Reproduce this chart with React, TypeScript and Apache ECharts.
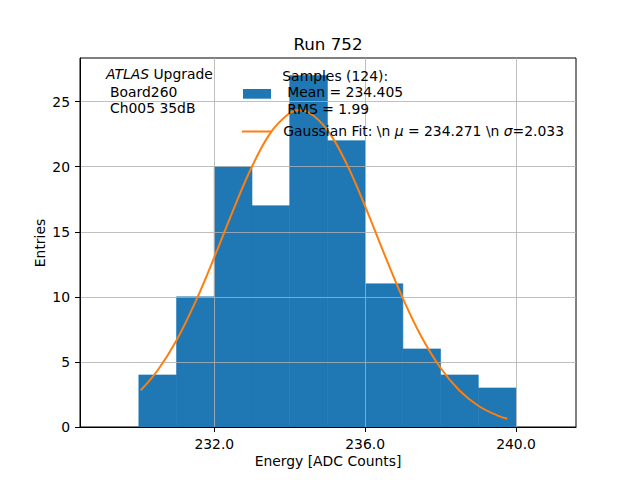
import React, { useEffect, useRef } from "react";
import * as echarts from "echarts";

const binLow = [230, 231, 232, 233, 234, 235, 236, 237, 238, 239];
const binHigh = [231, 232, 233, 234, 235, 236, 237, 238, 239, 240];
const counts = [4, 10, 20, 17, 27, 22, 11, 6, 4, 3];

const fitX = [230.05, 230.5, 231, 231.5, 232, 232.5, 233, 233.5, 234, 234.25, 234.5, 235, 235.5, 236, 236.5, 237, 237.5, 238, 238.5, 239, 239.5, 239.77];
const fitY = [2.82, 4.36, 6.67, 9.61, 13.04, 16.65, 20.01, 22.64, 24.12, 24.33, 24.18, 22.81, 20.27, 16.95, 13.34, 9.88, 6.89, 4.53, 2.8, 1.63, 0.89, 0.63];

const xTicks = [232, 236, 240];
const yTicks = [0, 5, 10, 15, 20, 25];

const FONT = "DejaVu Sans";
const FS = 13.9;

export default function App() {
  const ref = useRef<HTMLDivElement>(null);
  useEffect(() => {
    if (!ref.current) return;
    const chart = echarts.init(ref.current, null, { renderer: "svg" });
    const histData = binLow.map((lo, i) => [lo, binHigh[i], counts[i]]);
    const fitData = fitX.map((x, i) => [x, fitY[i]]);
    const txt = (x: number, y: number, text: string, extra: any = {}) => ({
      type: "text",
      x,
      y,
      z: 10,
      style: {
        text,
        fill: "#000",
        fontFamily: FONT,
        fontSize: FS,
        verticalAlign: "middle",
        align: "left",
        ...extra,
      },
    });
    chart.setOption({
      animation: false,
      backgroundColor: "#fff",
      grid: {
        left: 80,
        right: 64,
        top: 58,
        bottom: 53,
        show: true,
        borderColor: "#000",
        borderWidth: 1,
        backgroundColor: "transparent",
      },
      xAxis: {
        type: "value",
        min: 228.44,
        max: 241.59,
        z: 2,
        axisLine: { show: true, onZero: false, lineStyle: { color: "#000", width: 1 } },
        axisTick: { show: true, length: 5, customValues: xTicks, lineStyle: { color: "#000", width: 1 } },
        axisLabel: {
          customValues: xTicks,
          color: "#000",
          fontFamily: FONT,
          fontSize: FS,
          margin: 10,
          formatter: (v: number) => v.toFixed(1),
        },
        splitLine: { show: true, lineStyle: { color: "#b0b0b0", width: 0.8 } },
      },
      yAxis: {
        type: "value",
        min: 0,
        max: 28.35,
        z: 2,
        axisLine: { show: true, lineStyle: { color: "#000", width: 1 } },
        axisTick: { show: true, length: 5, customValues: yTicks, lineStyle: { color: "#000", width: 1 } },
        axisLabel: {
          customValues: yTicks,
          color: "#000",
          fontFamily: FONT,
          fontSize: FS,
          margin: 10,
        },
        splitLine: { show: true, lineStyle: { color: "#b0b0b0", width: 0.8 } },
      },
      series: [
        {
          type: "custom",
          z: 1,
          data: histData,
          encode: { x: [0, 1], y: 2 },
          renderItem: (params: any, api: any) => {
            const lo = api.value(0);
            const hi = api.value(1);
            const v = api.value(2);
            const p0 = api.coord([lo, 0]);
            const p1 = api.coord([hi, v]);
            return {
              type: "rect",
              shape: { x: p0[0], y: p1[1], width: p1[0] - p0[0], height: p0[1] - p1[1] },
              style: { fill: "#1f77b4", stroke: "#1f77b4", lineWidth: 0.6 },
            };
          },
        },
        {
          type: "line",
          z: 3,
          data: fitData,
          smooth: 0.4,
          showSymbol: false,
          symbol: "none",
          lineStyle: { color: "#ff7f0e", width: 2 },
        },
      ],
      graphic: [
        txt(328, 44, "Run 752", { align: "center", fontSize: 16.7 }),
        txt(328, 461, "Energy [ADC Counts]", { align: "center" }),
        {
          type: "text",
          x: 40,
          y: 243,
          rotation: Math.PI / 2,
          z: 10,
          style: {
            text: "Entries",
            fill: "#000",
            fontFamily: FONT,
            fontSize: FS,
            align: "center",
            verticalAlign: "middle",
          },
        },
        {
          type: "text",
          x: 106,
          y: 74,
          z: 10,
          style: {
            text: "{i|ATLAS} Upgrade",
            fill: "#000",
            fontFamily: FONT,
            fontSize: FS,
            verticalAlign: "middle",
            rich: { i: { fontStyle: "italic", fontFamily: FONT, fontSize: FS, fill: "#000" } },
          },
        },
        txt(110, 91.5, "Board260"),
        txt(110, 107.5, "Ch005 35dB"),
        {
          type: "rect",
          z: 10,
          shape: { x: 243, y: 89, width: 28, height: 9.7 },
          style: { fill: "#1f77b4" },
        },
        txt(282.3, 76, "Samples (124):"),
        txt(287.3, 92, "Mean = 234.405"),
        txt(287.3, 108.5, "RMS = 1.99"),
        {
          type: "line",
          z: 10,
          shape: { x1: 242, y1: 131.5, x2: 271, y2: 131.5 },
          style: { stroke: "#ff7f0e", lineWidth: 2 },
        },
        {
          type: "text",
          x: 283.3,
          y: 131,
          z: 10,
          style: {
            text: "Gaussian Fit: \\n {i|\u03bc} = 234.271 \\n {i|\u03c3}=2.033",
            fill: "#000",
            fontFamily: FONT,
            fontSize: FS,
            verticalAlign: "middle",
            rich: { i: { fontStyle: "italic", fontFamily: FONT, fontSize: FS, fill: "#000" } },
          },
        },
      ],
    });
    return () => chart.dispose();
  }, []);
  return (
    <div
      ref={ref}
      style={{ position: "fixed", left: 0, top: 0, width: 640, height: 480, background: "#fff" }}
    />
  );
}
